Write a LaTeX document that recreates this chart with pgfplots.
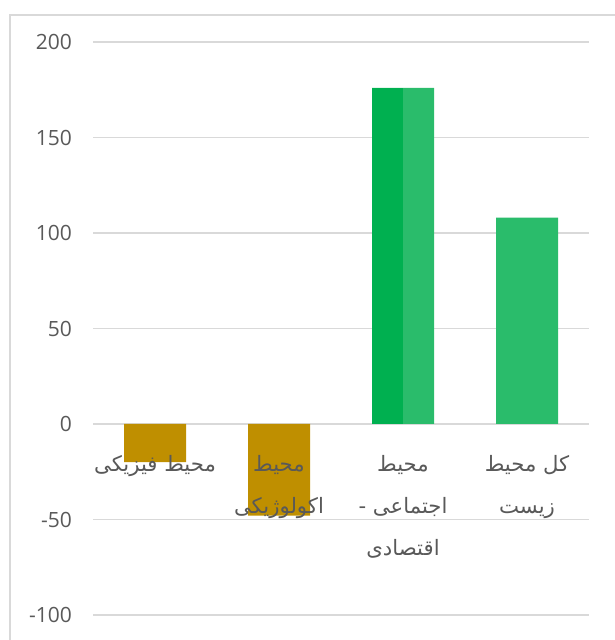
\documentclass[border=0pt]{standalone}
\usepackage{fontspec}
\setmainfont{Open Sans}
\newfontfamily\fa[Script=Arabic]{DejaVu Sans}
\TeXXeTstate=1
\usepackage{pgfplots}
\pgfplotsset{compat=1.18}
\definecolor{gold}{HTML}{BF8F00}
\definecolor{dgreen}{HTML}{00B050}
\definecolor{lgreen}{HTML}{2ABC6B}
\definecolor{gridc}{HTML}{D9D9D9}
\definecolor{txt}{HTML}{595959}
\pgfplotsset{
  base/.style={
    at={(0,0)}, anchor=south west,
    scale only axis, width=248pt, height=286.5pt,
    xmin=-0.5, xmax=3.5, ymin=-100, ymax=200,
    ytick={-100,-50,0,50,100,150,200},
    xtick={0,1,2,3},
    major tick length=0pt,
    axis line style={draw=none},
  }
}
\begin{document}
\begin{tikzpicture}
\begin{axis}[base,
  ymajorgrids, grid style={gridc, line width=0.7pt},
  yticklabels={}, xticklabels={},
]
\addplot[ybar, bar width=0.5, bar shift=0, fill=gold, draw=none] coordinates {(0,-20) (1,-48)};
\addplot[ybar, bar width=0.5, bar shift=0, fill=lgreen, draw=none] coordinates {(2,176) (3,108)};
\addplot[ybar, bar width=0.25, bar shift=-0.125, fill=dgreen, draw=none] coordinates {(2,176)};
\end{axis}
\begin{axis}[base,
  /pgf/number format/assume math mode=true,
  yticklabel style={font=\fontsize{10.5}{12}\selectfont, text=txt, anchor=east, xshift=-7pt},
  xticklabel style={font=\fa\fontsize{10.6}{21}\selectfont, text=txt, align=center, anchor=north, yshift=95.5pt-12pt},
  xticklabels={
    {\beginR محیط فیزیکی\endR},
    {\beginR محیط\endR\\\beginR اکولوژیکی\endR},
    {\beginR محیط\endR\\\beginR اجتماعی -\endR\\\beginR اقتصادی\endR},
    {\beginR کل محیط\endR\\\beginR زیست\endR}},
]
\end{axis}
\draw[gridc, line width=0.8pt] (-41.5pt,-40pt) rectangle (290pt,300pt);
\pgfresetboundingbox
\path[use as bounding box] (-46.5pt,-12.5pt) rectangle (260.5pt,307.5pt);
\end{tikzpicture}
\end{document}
